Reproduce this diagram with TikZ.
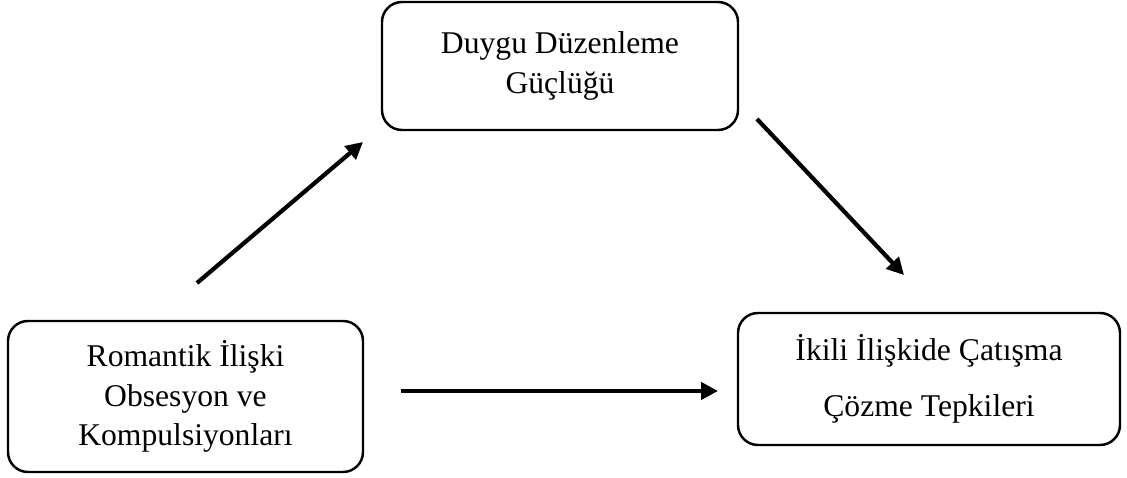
\documentclass[tikz,border=0pt]{standalone}
\usepackage{fontspec}
\setmainfont{Liberation Serif}
\usetikzlibrary{arrows.meta, positioning}

\begin{document}
\begin{tikzpicture}[
      box/.style = {draw, rounded corners=0.4cm, line width=1.4pt,
                    align=center, inner sep=0pt,
                    font=\fontsize{18}{22.5}\selectfont},
    arrow/.style = {-{Triangle[length=0.34cm, width=0.34cm]}, line width=2.4pt}]
  \useasboundingbox (0,0) rectangle (22.54,-9.56);
  \node[box, minimum width=7.12cm, minimum height=2.56cm] (ddg) at (11.2,-1.32)
       {Duygu Düzenleme\\Güçlüğü};
  \node[box, minimum width=7.1cm, minimum height=3.02cm] (rio) at (3.71,-7.93)
       {Romantik İlişki\\Obsesyon ve\\Kompulsiyonları};
  \node[box, minimum width=7.64cm, minimum height=2.64cm,
        font=\fontsize{18}{32}\selectfont] (cct) at (18.58,-7.58)
       {İkili İlişkide Çatışma\\Çözme Tepkileri};
  % free arrow ends
  \coordinate (rio-out) at (3.94,-5.66);
  \coordinate (ddg-in)  at (7.26,-2.84);
  \coordinate (ddg-out) at (15.14,-2.38);
  \coordinate (cct-in)  at (18.08,-5.5);
  \coordinate (rio-r)   at (8.02,-7.82);
  \coordinate (cct-l)   at (14.36,-7.82);
  \draw[arrow] (rio-out) -- (ddg-in);
  \draw[arrow] (ddg-out) -- (cct-in);
  \draw[arrow] (rio-r) -- (cct-l);
\end{tikzpicture}
\end{document}
